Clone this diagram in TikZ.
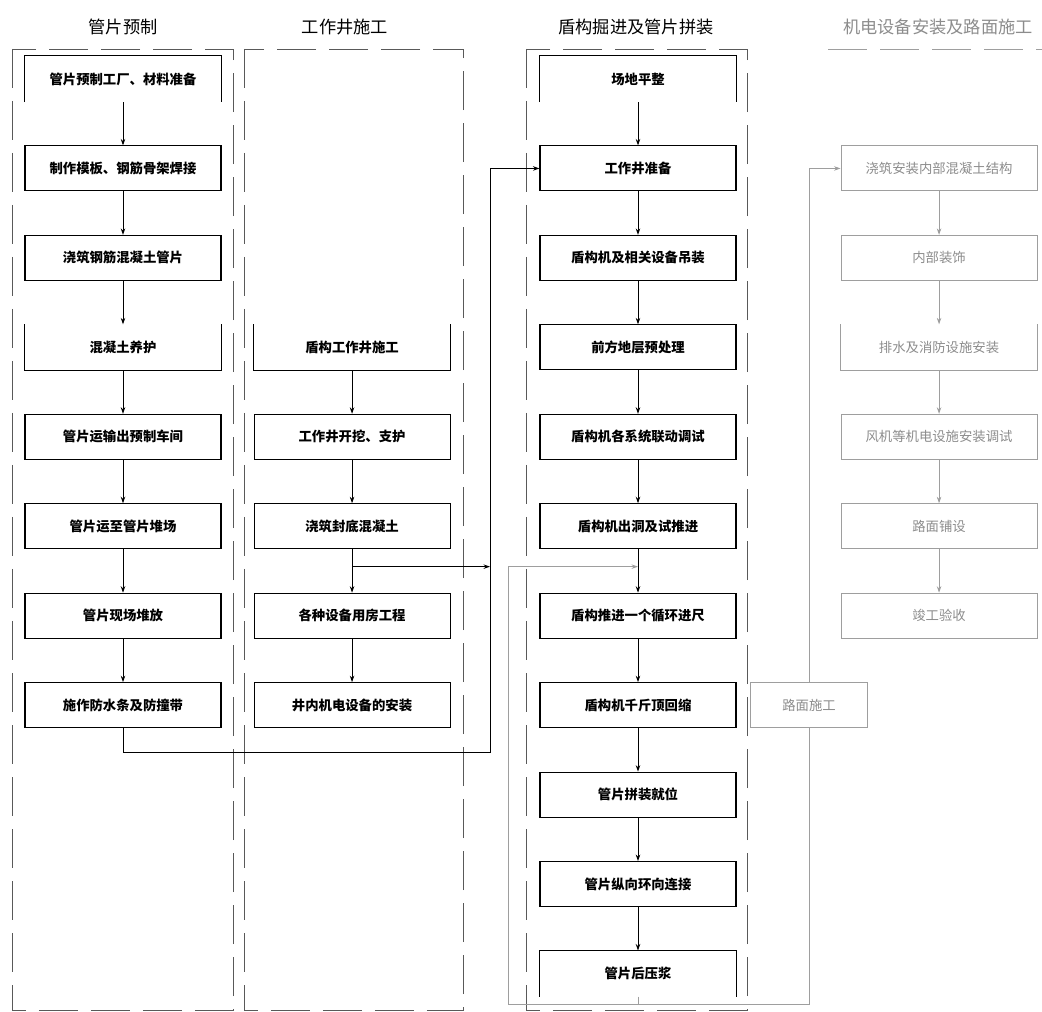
\documentclass[tikz,border=0pt]{standalone}
\usepackage{fontspec}
\newfontfamily\cjk{Noto Sans CJK SC}
\usetikzlibrary{arrows.meta, positioning, calc}
\definecolor{lightline}{gray}{0.62}
\definecolor{lighttext}{gray}{0.55}

\begin{document}
\begin{tikzpicture}[
    node distance=0.868cm,
    box/.style={draw, line width=0.6pt, minimum width=3.92cm, minimum height=0.9cm, inner sep=0pt, font=\cjk\bfseries\fontsize{7.6}{9}\selectfont},
    gbox/.style={box, draw=lightline, text=lighttext, font=\cjk\fontsize{7.6}{9}\selectfont},
    title/.style={font=\cjk\fontsize{9.8}{12}\selectfont},
    frame/.style={black!65, line width=0.55pt, dash pattern=on 0.78cm off 0.26cm},
    arr/.style={-{Stealth[length=1.3mm, width=0.9mm]}, line width=0.5pt},
    garr/.style={arr, lightline}
  ]
  \useasboundingbox (0,0) rectangle (20.84,-20.24);

  % column frames and headings
  \draw[frame] (0.24,-0.98) rectangle (4.66,-20.2);
  \draw[frame] (4.88,-0.98) rectangle (9.26,-20.2);
  \draw[frame] (10.52,-0.98) rectangle (14.94,-20.2);
  \draw[frame, lightline] (16.56,-0.98) -- (20.84,-0.98);
  \node[title] (t1) at (2.46,-0.54) {管片预制};
  \node[title] (t2) at (6.9,-0.54) {工作井施工};
  \node[title] (t3) at (12.72,-0.54) {盾构掘进及管片拼装};
  \node[title, text=lighttext] (t4) at (18.76,-0.54) {机电设备安装及路面施工};

  % 管片预制
  \node[box, draw=none] (p1) at (2.46,-1.58) {管片预制工厂、材料准备};
  \node[box, below=of p1] (p2) {制作模板、钢筋骨架焊接};
  \node[box, below=of p2] (p3) {浇筑钢筋混凝土管片};
  \node[box, draw=none, below=of p3] (p4) {混凝土养护};
  \node[box, below=of p4] (p5) {管片运输出预制车间};
  \node[box, below=of p5] (p6) {管片运至管片堆场};
  \node[box, below=of p6] (p7) {管片现场堆放};
  \node[box, below=of p7] (p8) {施作防水条及防撞带};

  % 工作井施工
  \node[box, draw=none, right=0.64cm of p4] (w1) {盾构工作井施工};
  \node[box, below=of w1] (w2) {工作井开挖、支护};
  \node[box, below=of w2] (w3) {浇筑封底混凝土};
  \node[box, below=of w3] (w4) {各种设备用房工程};
  \node[box, below=of w4] (w5) {井内机电设备的安装};

  % 盾构掘进及管片拼装
  \node[box, draw=none] (s1) at (12.76,-1.58) {场地平整};
  \node[box, below=of s1] (s2) {工作井准备};
  \node[box, below=of s2] (s3) {盾构机及相关设备吊装};
  \node[box, below=of s3] (s4) {前方地层预处理};
  \node[box, below=of s4] (s5) {盾构机各系统联动调试};
  \node[box, below=of s5] (s6) {盾构机出洞及试推进};
  \node[box, below=of s6] (s7) {盾构推进一个循环进尺};
  \node[box, below=of s7] (s8) {盾构机千斤顶回缩};
  \node[box, below=of s8] (s9) {管片拼装就位};
  \node[box, below=of s9] (s10) {管片纵向环向连接};
  \node[box, draw=none, below=of s10] (s11) {管片后压浆};

  % 机电设备安装及路面施工
  \node[gbox, right=2.08cm of s2] (e1) {浇筑安装内部混凝土结构};
  \node[gbox, below=of e1] (e2) {内部装饰};
  \node[gbox, draw=none, below=of e2] (e3) {排水及消防设施安装};
  \node[gbox, below=of e3] (e4) {风机等机电设施安装调试};
  \node[gbox, below=of e4] (e5) {路面铺设};
  \node[gbox, below=of e5] (e6) {竣工验收};

  % open boxes
  \draw[line width=0.6pt] (p1.south west) |- (p1.north east) -- (p1.south east);
  \draw[line width=0.6pt] (s1.south west) |- (s1.north east) -- (s1.south east);
  \draw[line width=0.6pt] (s11.south west) |- (s11.north east) -- (s11.south east);
  \draw[line width=0.6pt] (p4.north west) |- (p4.south east) -- (p4.north east);
  \draw[line width=0.6pt] (w1.north west) |- (w1.south east) -- (w1.north east);
  \draw[line width=0.6pt, lightline] (e3.north west) |- (e3.south east) -- (e3.north east);

  % chains
  \foreach \a/\b in {p1/p2, p2/p3, p3/p4, p4/p5, p5/p6, p6/p7, p7/p8,
                     w1/w2, w2/w3, w3/w4, w4/w5,
                     s1/s2, s2/s3, s3/s4, s4/s5, s5/s6, s6/s7, s7/s8, s8/s9, s9/s10, s10/s11}
    \draw[arr] (\a) -- (\b);
  \foreach \a/\b in {e1/e2, e2/e3, e3/e4, e4/e5, e5/e6}
    \draw[garr] (\a) -- (\b);

  % cross links
  \coordinate (busB) at (9.8,-15.04);
  \draw[arr] (p8.south) |- (busB) |- (s2.west);
  \coordinate (w3j) at ($(w3.south)!0.4!(w4.north)$);
  \draw[arr] (w3j) -- (w3j -| busB);

  \coordinate (loopL) at (10.16,-20.08);
  \coordinate (loopR) at (16.18,-20.08);
  \coordinate (s56) at ($(s6.south)!0.4!(s7.north)$);
  \draw[lightline, line width=0.5pt] (s11.south) -- (s11.south |- loopL);
  \draw[garr] (loopL -| s11.south) -- (loopL) |- (s56);
  \draw[garr] (loopL -| s11.south) -- (loopR) |- (e1.west);
  \node[gbox, fill=white, minimum width=2.34cm] (rd) at (s8 -| loopR) {路面施工};
\end{tikzpicture}
\end{document}
